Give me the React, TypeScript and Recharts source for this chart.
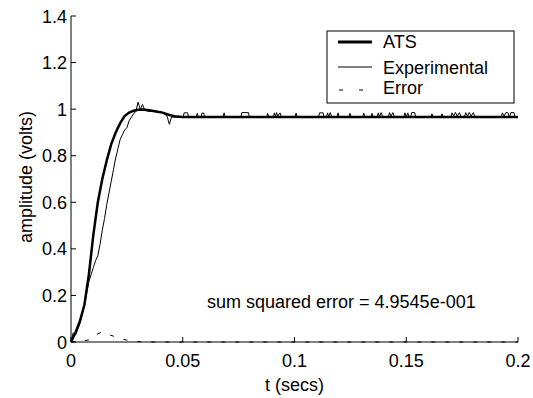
import React from 'react';
import { LineChart, Line, XAxis, YAxis, Customized } from 'recharts';

const FONT = '"Liberation Sans", Arial, sans-serif';

// x ticks / y ticks
const xTicks = [0, 0.05, 0.1, 0.15, 0.2];
const yTicks = [0, 0.2, 0.4, 0.6, 0.8, 1, 1.2, 1.4];

// ATS model response
const atsT = [0, 0.002, 0.004, 0.006, 0.008, 0.010, 0.012, 0.014, 0.016, 0.018, 0.020, 0.022, 0.024, 0.026, 0.028, 0.030, 0.032, 0.035, 0.038, 0.041, 0.044, 0.047, 0.050, 0.2];
const atsV = [0, 0.04, 0.09, 0.16, 0.29, 0.46, 0.60, 0.70, 0.78, 0.85, 0.90, 0.94, 0.97, 0.985, 0.993, 0.997, 0.998, 0.995, 0.99, 0.985, 0.975, 0.968, 0.966, 0.966];

// experimental response (rise)
const expRise: [number, number][] = [
  [0, 0], [0.001, 0.04], [0.002, 0.03], [0.004, 0.08], [0.006, 0.16], [0.008, 0.26], [0.009, 0.29],
  [0.010, 0.32], [0.011, 0.35], [0.012, 0.37], [0.013, 0.42], [0.014, 0.48], [0.015, 0.53], [0.016, 0.59],
  [0.017, 0.64], [0.018, 0.69], [0.019, 0.74], [0.020, 0.79], [0.021, 0.83], [0.022, 0.87], [0.023, 0.89],
  [0.024, 0.91], [0.025, 0.92], [0.026, 0.95], [0.027, 0.965], [0.028, 0.98], [0.029, 0.99], [0.030, 1.03],
  [0.031, 1.0], [0.032, 1.02], [0.033, 0.995], [0.035, 0.99], [0.038, 0.99], [0.041, 0.985], [0.043, 0.97],
  [0.044, 0.935], [0.045, 0.966],
];

// experimental response (steady state with noise)
const expSteady: [number, number][] = [
  [0.0502, 0.966], [0.0506, 0.984], [0.0522, 0.984], [0.0526, 0.966],
  [0.0560, 0.966], [0.0565, 0.982], [0.0570, 0.966],
  [0.0582, 0.966], [0.0586, 0.983], [0.0594, 0.983], [0.0598, 0.966],
  [0.0680, 0.966], [0.0685, 0.984], [0.0690, 0.966],
  [0.0760, 0.966], [0.0764, 0.985], [0.0794, 0.985], [0.0798, 0.966],
  [0.0875, 0.966], [0.0880, 0.982], [0.0885, 0.966],
  [0.0905, 0.966], [0.0910, 0.984], [0.0915, 0.970], [0.0920, 0.985], [0.0925, 0.970], [0.0935, 0.984], [0.0942, 0.966],
  [0.1002, 0.966], [0.1007, 0.983], [0.1012, 0.966],
  [0.1108, 0.966], [0.1112, 0.984], [0.1128, 0.984], [0.1132, 0.966],
  [0.1143, 0.966], [0.1148, 0.984], [0.1153, 0.968], [0.1160, 0.985], [0.1167, 0.966],
  [0.1190, 0.966], [0.1195, 0.984], [0.1200, 0.966],
  [0.1243, 0.966], [0.1248, 0.982], [0.1253, 0.966],
  [0.1305, 0.966], [0.1310, 0.983], [0.1315, 0.966],
  [0.1342, 0.966], [0.1347, 0.982], [0.1352, 0.966],
  [0.1370, 0.966], [0.1375, 0.984], [0.1380, 0.968], [0.1388, 0.985], [0.1395, 0.966],
  [0.1420, 0.966], [0.1425, 0.985], [0.1432, 0.970], [0.1440, 0.985], [0.1448, 0.966],
  [0.1489, 0.966], [0.1494, 0.984], [0.1500, 0.968], [0.1507, 0.984], [0.1512, 0.966],
  [0.1520, 0.966], [0.1524, 0.985], [0.1538, 0.985], [0.1542, 0.966],
  [0.1610, 0.966], [0.1615, 0.980], [0.1620, 0.966],
  [0.1655, 0.966], [0.1660, 0.980], [0.1665, 0.966],
  [0.1700, 0.966], [0.1705, 0.984], [0.1712, 0.970], [0.1720, 0.986], [0.1728, 0.970], [0.1738, 0.985], [0.1746, 0.966],
  [0.1760, 0.966], [0.1766, 0.985], [0.1774, 0.970], [0.1782, 0.986], [0.1790, 0.970], [0.1800, 0.985], [0.1808, 0.966],
  [0.1925, 0.966], [0.1930, 0.984], [0.1938, 0.970], [0.1946, 0.985], [0.1954, 0.985], [0.1962, 0.966], [0.1968, 0.985], [0.1982, 0.985], [0.1986, 0.966],
  [0.2, 0.966],
];

// squared error
const errT = [0, 0.004, 0.008, 0.011, 0.0135, 0.016, 0.019, 0.022, 0.025, 0.028, 0.031, 0.035, 0.2];
const errV = [0, 0.003, 0.009, 0.03, 0.042, 0.035, 0.025, 0.015, 0.008, 0.003, 0.001, 0, 0];

const atsData = atsT.map((t, i) => ({ t, v: atsV[i] }));
const expData = [...expRise, ...expSteady].map(([t, v]) => ({ t, v }));
const errData = errT.map((t, i) => ({ t, v: errV[i] }));

const txt = { fontFamily: FONT, fontSize: 18, fill: '#000' };

const BottomTick = (props: any) => {
  const { x, y, payload } = props;
  return (
    <g>
      <line x1={x} y1={y} x2={x} y2={y - 5} stroke="#000" />
      <text x={x} y={y + 25} textAnchor="middle" {...txt}>{payload.value}</text>
    </g>
  );
};
const TopTick = (props: any) => {
  const { x, y } = props;
  return <line x1={x} y1={y} x2={x} y2={y + 5} stroke="#000" />;
};
const LeftTick = (props: any) => {
  const { x, y, payload } = props;
  return (
    <g>
      <line x1={x} y1={y} x2={x + 5} y2={y} stroke="#000" />
      <text x={x - 4} y={y + 6.5} textAnchor="end" {...txt}>{payload.value}</text>
    </g>
  );
};
const RightTick = (props: any) => {
  const { x, y } = props;
  return <line x1={x} y1={y} x2={x - 5} y2={y} stroke="#000" />;
};

const Overlay = () => (
  <g>
    <text transform="translate(32,177) rotate(-90)" textAnchor="middle" {...txt}>amplitude (volts)</text>
    <text x={207} y={308} {...txt}>sum squared error = 4.9545e-001</text>
    <rect x={327} y={31} width={187} height={72} fill="#fff" stroke="#000" />
    <line x1={338} y1={42} x2={372} y2={42} stroke="#000" strokeWidth={3} />
    <text x={383} y={48} {...txt}>ATS</text>
    <line x1={338} y1={67} x2={372} y2={67} stroke="#000" strokeWidth={1} />
    <text x={383} y={73.5} {...txt}>Experimental</text>
    <line x1={339} y1={90} x2={372} y2={90} stroke="#000" strokeWidth={1} strokeDasharray="4 16" />
    <text x={383} y={94} {...txt}>Error</text>
  </g>
);

const App = () => (
  <div style={{ position: 'absolute', left: 0, top: 0 }}>
    <LineChart width={533} height={398} margin={{ top: 16, right: 15, bottom: 0, left: 21 }}>
      <XAxis dataKey="t" type="number" domain={[0, 0.2]} ticks={xTicks} interval={0}
        tickSize={0} tickMargin={0} tick={<BottomTick />} axisLine={{ stroke: '#000' }} height={56}
        label={{ value: 't (secs)', position: 'insideBottom', offset: 7, ...txt }} />
      <XAxis xAxisId="top" orientation="top" dataKey="t" type="number" domain={[0, 0.2]} ticks={xTicks}
        interval={0} tickSize={0} tickMargin={0} tick={<TopTick />} axisLine={{ stroke: '#000' }} height={0} />
      <YAxis type="number" domain={[0, 1.4]} ticks={yTicks} interval={0} tickSize={0} tickMargin={0}
        tick={<LeftTick />} axisLine={{ stroke: '#000' }} width={50} />
      <YAxis yAxisId="right" orientation="right" type="number" domain={[0, 1.4]} ticks={yTicks} interval={0}
        tickSize={0} tickMargin={0} tick={<RightTick />} axisLine={{ stroke: '#000' }} width={0} />
      <Line data={errData} dataKey="v" type="linear" stroke="#000" strokeWidth={1} strokeDasharray="4 10"
        dot={false} isAnimationActive={false} />
      <Line data={expData} dataKey="v" type="linear" stroke="#000" strokeWidth={1}
        dot={false} isAnimationActive={false} />
      <Line data={atsData} dataKey="v" type="linear" stroke="#000" strokeWidth={2.5}
        dot={false} isAnimationActive={false} />
      <Customized component={Overlay} />
    </LineChart>
  </div>
);

export default App;
